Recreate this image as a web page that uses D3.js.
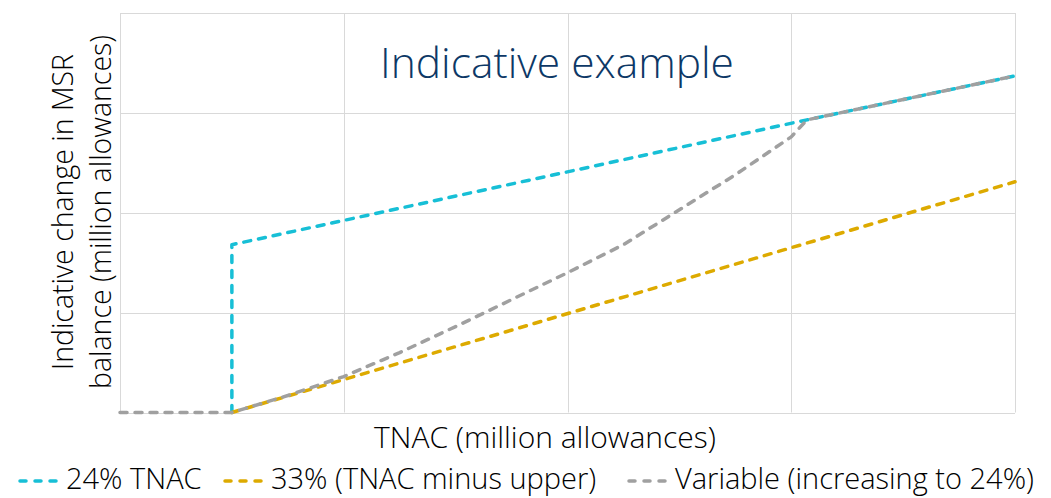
<!DOCTYPE html>
<html><head><meta charset="utf-8">
<script src="https://cdn.jsdelivr.net/npm/d3@7"></script>
<style>body{margin:0;background:#fff}svg{display:block}</style>
</head><body>
<svg id="c" width="1051" height="498"></svg>
<script>
// Data (TNAC in arbitrary units 0..8, MSR change in arbitrary units 0..4)
const tnacTicks = [0, 2, 4, 6, 8];
const msrTicks = [0, 1, 2, 3, 4];
const seriesNames = ["24% TNAC", "33% (TNAC minus upper)", "Variable (increasing to 24%)"];
const seriesColors = ["#17BFD6", "#DDAA00", "#A0A0A0"];
const tnac24X = [1, 1, 6.14, 8];
const tnac24Y = [0, 1.68, 2.93, 3.37];
const upper33X = [1, 8];
const upper33Y = [0, 2.31];
const variableX = [0, 1, 1.5, 2, 2.5, 3, 3.5, 4, 4.5, 5, 5.5, 6, 6.14, 8];
const variableY = [0, 0, 0.17, 0.36, 0.60, 0.86, 1.13, 1.40, 1.68, 2.03, 2.38, 2.76, 2.93, 3.37];
const titleText = "Indicative example";
const xLabel = "TNAC (million allowances)";
const yLabel = ["Indicative change in MSR", "balance (million allowances)"];

const svg = d3.select("#c");
const L = 120, R = 1015, T = 13, B = 412.5;
const x = d3.scaleLinear().domain([0, 8]).range([L, R]);
const y = d3.scaleLinear().domain([0, 4]).range([B, T]);
const font = "'Open Sans', sans-serif";

// gridlines
svg.append("g").selectAll("line.v").data(tnacTicks).join("line")
  .attr("x1", d => Math.round(x(d)) + 0.5).attr("x2", d => Math.round(x(d)) + 0.5)
  .attr("y1", T).attr("y2", B).attr("stroke", "#D9D9D9").attr("stroke-width", 1);
svg.append("g").selectAll("line.h").data(msrTicks).join("line")
  .attr("y1", d => Math.round(y(d)) + 0.5).attr("y2", d => Math.round(y(d)) + 0.5)
  .attr("x1", L).attr("x2", R).attr("stroke", "#D9D9D9").attr("stroke-width", 1);

// title
svg.append("text").attr("x", 557).attr("y", 78).attr("text-anchor", "middle")
  .attr("font-family", font).attr("font-weight", 300).attr("font-size", 42.5)
  .attr("fill", "#0D3866").text(titleText);

// series
const series = [
  {x: tnac24X, y: tnac24Y},
  {x: upper33X, y: upper33Y},
  {x: variableX, y: variableY}
];
series.forEach((s, i) => {
  const pts = s.x.map((v, j) => [v, s.y[j]]);
  const line = d3.line().x(d => x(d[0])).y(d => y(d[1])).curve(d3.curveLinear);
  svg.append("path").attr("d", line(pts)).attr("fill", "none")
    .attr("stroke", seriesColors[i]).attr("stroke-width", 3.5)
    .attr("stroke-dasharray", "7,8").attr("stroke-linecap", "round")
    .attr("stroke-linejoin", "round");
});

// axis labels
svg.append("text").attr("x", 545).attr("y", 448).attr("text-anchor", "middle")
  .attr("font-family", font).attr("font-weight", 300).attr("font-size", 30)
  .attr("fill", "#000").text(xLabel);
const yl = svg.append("text").attr("transform", "translate(73,212) rotate(-90)")
  .attr("text-anchor", "middle").attr("font-family", font).attr("font-weight", 300)
  .attr("font-size", 28.5).attr("fill", "#000");
yl.append("tspan").attr("x", 0).attr("dy", 0).text(yLabel[0]);
yl.append("tspan").attr("x", 0).attr("dy", 38).text(yLabel[1]);

// legend
const legX = [17, 222, 626];
const lg = svg.append("g");
seriesNames.forEach((n, i) => {
  lg.append("line").attr("x1", legX[i] + 3).attr("x2", legX[i] + 42)
    .attr("y1", 481).attr("y2", 481).attr("stroke", seriesColors[i])
    .attr("stroke-width", 3.5).attr("stroke-dasharray", "6,9").attr("stroke-linecap", "round");
  lg.append("text").attr("x", legX[i] + 49).attr("y", 489)
    .attr("font-family", font).attr("font-weight", 300).attr("font-size", 29)
    .attr("fill", "#000").text(n);
});
</script>
</body></html>
